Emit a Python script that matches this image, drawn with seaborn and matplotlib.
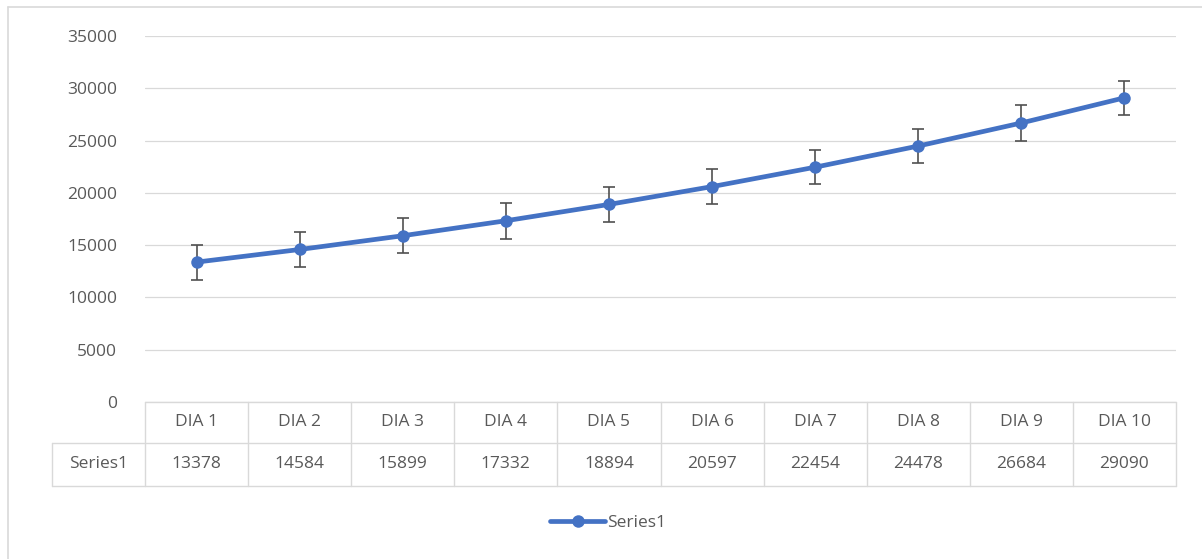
import matplotlib
matplotlib.use("Agg")
import matplotlib.pyplot as plt
import seaborn as sns
import pandas as pd
from matplotlib.lines import Line2D

# data
days = ["DIA 1", "DIA 2", "DIA 3", "DIA 4", "DIA 5",
        "DIA 6", "DIA 7", "DIA 8", "DIA 9", "DIA 10"]
series1 = [13378, 14584, 15899, 17332, 18894, 20597, 22454, 24478, 26684, 29090]
err = [1670, 1650, 1650, 1700, 1700, 1650, 1650, 1650, 1700, 1650]
yticks = [0, 5000, 10000, 15000, 20000, 25000, 30000, 35000]
series_name = "Series1"

BLUE = "#4472C4"
TXT = "#595959"
GRID = "#d9d9d9"
FS = 12.5

sns.set_theme(style="white")
plt.rcParams['font.family'] = ['Open Sans', 'DejaVu Sans']

W, H = 1202, 559
fig = plt.figure(figsize=(W / 100, H / 100), dpi=100)
left, right, top, bot = 145, 1176, 36, 402
ax = fig.add_axes([left / W, 1 - bot / H, (right - left) / W, (bot - top) / H])

df = pd.DataFrame({"day": days, "value": series1})
df["pos"] = range(len(days))

ax.errorbar(df["pos"], df["value"], yerr=err, fmt="none", ecolor="#505050",
            elinewidth=1.2, capsize=4.5, capthick=1.2, zorder=2)
sns.lineplot(data=df, x="pos", y="value", ax=ax, color=BLUE, linewidth=3.4,
             marker="o", markersize=9, markeredgewidth=0, zorder=3,
             label=series_name, legend=False)

ax.set_xlim(-0.5, len(days) - 0.5)
ax.set_ylim(0, 35000)
ax.set_yticks(yticks)
ax.set_yticklabels([str(v) for v in yticks], fontsize=FS, color=TXT)
ax.set_xticks([])
ax.set_xlabel("")
ax.set_ylabel("")
ax.tick_params(axis="y", length=0, pad=20)
ax.grid(axis="y", color=GRID, linewidth=0.9)
for s in ax.spines.values():
    s.set_visible(False)

# data table under the plot
tr = ax.get_xaxis_transform()
px = (bot - top)
h_top = 0.0
h_mid = -41 / px
h_bot = -84 / px
x_lab = (52 - left) / ((right - left) / len(days)) - 0.5
n = len(days)
kw = dict(color=GRID, linewidth=1.0, transform=tr, clip_on=False)
ax.add_line(Line2D([-0.5, n - 0.5], [h_top, h_top], **kw))
ax.add_line(Line2D([x_lab, n - 0.5], [h_mid, h_mid], **kw))
ax.add_line(Line2D([x_lab, n - 0.5], [h_bot, h_bot], **kw))
ax.add_line(Line2D([x_lab, x_lab], [h_mid, h_bot], **kw))
for i in range(n + 1):
    ax.add_line(Line2D([i - 0.5, i - 0.5], [h_top, h_bot], **kw))
for i, (d, v) in enumerate(zip(days, series1)):
    ax.text(i, (h_top + h_mid) / 2, d, transform=tr, ha="center", va="center",
            fontsize=FS, color=TXT)
    ax.text(i, (h_mid + h_bot) / 2, str(v), transform=tr, ha="center", va="center",
            fontsize=FS, color=TXT)
ax.text((x_lab - 0.5) / 2, (h_mid + h_bot) / 2, series_name, transform=tr,
        ha="center", va="center", fontsize=FS, color=TXT)

# legend
handles, labels = ax.get_legend_handles_labels()
leg = fig.legend(handles, labels, loc="center", bbox_to_anchor=(608 / W, 1 - 523 / H),
                 frameon=False, fontsize=FS, handlelength=3.2, handletextpad=0.1)
for t in leg.get_texts():
    t.set_color(TXT)

# chart area border
fig.add_artist(Line2D([8 / W, 8 / W], [0, 1 - 7 / H], color=GRID, linewidth=1.2,
                      transform=fig.transFigure))
fig.add_artist(Line2D([8 / W, 1], [1 - 7 / H, 1 - 7 / H], color=GRID, linewidth=1.2,
                      transform=fig.transFigure))

fig.savefig("out.png", dpi=100, facecolor="white")
